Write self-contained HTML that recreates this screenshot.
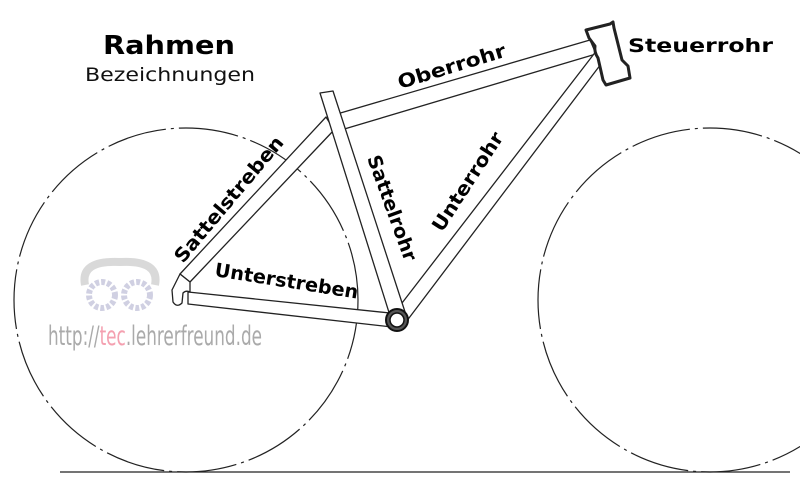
<!DOCTYPE html>
<html><head><meta charset="utf-8"><style>
html,body{margin:0;padding:0;background:#fff;width:800px;height:496px;overflow:hidden}
text{font-family:"DejaVu Sans","Liberation Sans",sans-serif}
</style></head><body>
<svg width="800" height="496" viewBox="0 0 800 496" xmlns="http://www.w3.org/2000/svg">
<g fill="none" stroke="#222" stroke-width="1.2">
<circle cx="186" cy="300" r="172" stroke-dasharray="60 5 3 5"/>
<circle cx="710" cy="300" r="172" stroke-dasharray="60 5 3 5"/>
<line x1="60" y1="472" x2="790" y2="472"/>
</g>
<g fill="#fff" stroke="#222" stroke-width="1.3" stroke-linejoin="round">
<polygon points="326,117 180,274 190,282 334,130"/>
<polygon points="188,292 390,313 392,327 188,304"/>
<polygon points="590,40 337,114 341,130 596,54"/>
<polygon points="597,50 604,60 406,322 392,316"/>
<polygon points="320,93 333,91 407,318 392,322"/>
<path d="M180,274 L172,290 L173,302 Q177,308 182,303 L183,293 Q186,290 190,292 L190,282 Z"/>
<path d="M586,30 L610,24 L613,22 L614,28 L622,60 L628,66 L630,78 L606,85 L603,80 L598,58 Q594,52 595,46 L589,38 Z" stroke-width="3"/>
</g>
<circle cx="397" cy="320" r="11" fill="#555" stroke="#111" stroke-width="2"/>
<circle cx="397" cy="320" r="7" fill="#fff" stroke="#111" stroke-width="1.5"/>
<g opacity="0.55">
<path d="M85,285 Q80,260 120,262 Q160,260 155,285" fill="none" stroke="#bbb" stroke-width="8"/>
<circle cx="102" cy="295" r="13" fill="none" stroke="#aac" stroke-width="6" stroke-dasharray="4 2"/>
<circle cx="137" cy="295" r="13" fill="none" stroke="#aac" stroke-width="6" stroke-dasharray="4 2"/>
</g>
<text x="48" y="345" font-size="27" fill="#aaa" font-family="Liberation Sans Narrow,Liberation Sans,sans-serif" textLength="214" lengthAdjust="spacingAndGlyphs">http://<tspan fill="#f4a0b0">tec</tspan>.lehrerfreund.de</text>
<text x="169" y="54" font-size="26" font-weight="bold" text-anchor="middle" fill="#000" textLength="132" lengthAdjust="spacingAndGlyphs">Rahmen</text>
<text x="170" y="81" font-size="19" text-anchor="middle" fill="#111" textLength="170" lengthAdjust="spacingAndGlyphs">Bezeichnungen</text>
<g font-size="19" font-weight="bold" fill="#000">
<text x="628" y="52" textLength="145" lengthAdjust="spacingAndGlyphs">Steuerrohr</text>
<text transform="translate(400,89) rotate(-17)" textLength="112" lengthAdjust="spacingAndGlyphs">Oberrohr</text>
<text transform="translate(442,233) rotate(-57)" textLength="114" lengthAdjust="spacingAndGlyphs">Unterrohr</text>
<text transform="translate(367,158) rotate(70)" textLength="111" lengthAdjust="spacingAndGlyphs">Sattelrohr</text>
<text transform="translate(183,264) rotate(-50)" textLength="158" lengthAdjust="spacingAndGlyphs">Sattelstreben</text>
<text transform="translate(214,276) rotate(9)" textLength="145" lengthAdjust="spacingAndGlyphs">Unterstreben</text>
</g>
</svg>
</body></html>
